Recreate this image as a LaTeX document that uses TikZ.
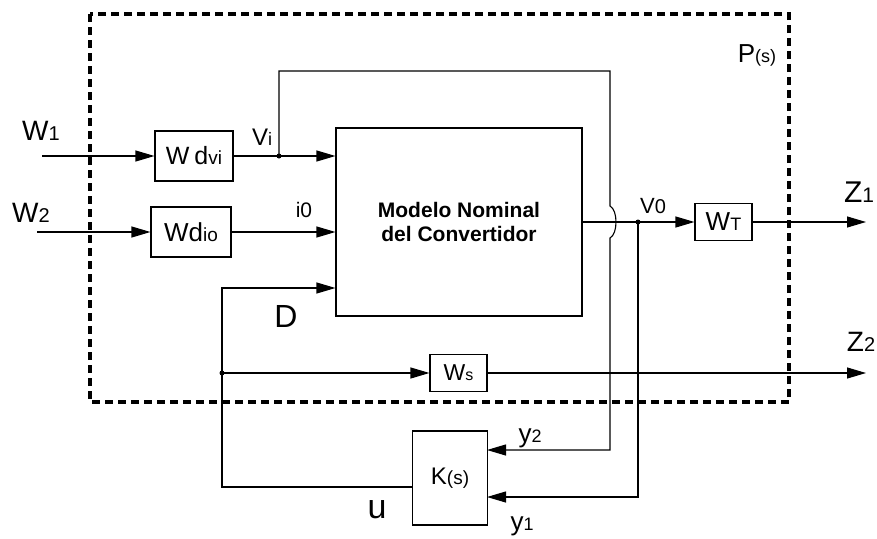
\documentclass[tikz,border=0pt]{standalone}
\usepackage{fontspec}
\setmainfont{Liberation Sans}
\usetikzlibrary{arrows.meta}
\newcommand{\fsz}[1]{\fontsize{#1}{#1}\selectfont}
\tikzset{
  blok/.style={draw, line width=1.1pt, inner sep=0pt},
  wire/.style={line width=1.1pt},
  arr/.style={line width=1.1pt, -{Triangle[length=19pt,width=11pt]}},
  lbl/.style={inner sep=0pt, anchor=base},
}
\begin{document}
\begin{tikzpicture}[x=1pt,y=-1pt]
        \useasboundingbox (0,0) rectangle (877,538);
        % P(s) frame
        \draw[line width=3.2pt, dash pattern=on 8pt off 5pt] (90,14) rectangle (789,402);
        \node[lbl] (ps) at (757,62) {\fsz{26}P\fsz{18}(s)};
        % blocks
        \node[blok, minimum width=246pt, minimum height=188pt, align=center,
              font={\fontsize{21}{24}\selectfont\bfseries}] (blk) at (459,222) {Modelo Nominal\\del Convertidor};
        \node[blok, minimum width=78pt, minimum height=50pt] (wdvi) at (194,156) {\fsz{25}W\hspace{5pt}d\fsz{19}vi};
        \node[blok, minimum width=80pt, minimum height=50pt] (wdio) at (191,232) {\fsz{26}Wd\fsz{19}io};
        \node[blok, minimum width=57pt, minimum height=37pt] (wt) at (723.5,222) {\fsz{26}W\fsz{18}T};
        \node[blok, minimum width=57pt, minimum height=37pt] (ws) at (458.5,373) {\fsz{23}W\fsz{16}s};
        \node[blok, minimum width=75pt, minimum height=94pt] (ks) at (450,478) {\fsz{24}K\fsz{19}(s)};
        % points
        \coordinate (w1) at (42,156);
        \coordinate (w2) at (37,232);
        \coordinate (vi) at (279,156);
        \coordinate (lt) at (610,71);
        \coordinate (dc) at (222,288);
        \coordinate (sj) at (222,373);
        \coordinate (vo) at (638,222);
        \coordinate (z1) at (866,222);
        \coordinate (z2) at (866,373);
        \coordinate (ky2) at (487,450);
        \coordinate (ky1) at (487,497);
        \coordinate (ku) at (412,487);
        % connectors
        \draw[arr] (w1) -- (wdvi);
        \draw[arr] (w2) -- (wdio);
        \draw[wire] (wdvi) -- (vi);
        \draw[arr] (vi) -- (vi -| blk.west);
        \draw[arr] (wdio) -- (wdio -| blk.west);
        \draw[arr] (vi) |- (lt) -- (610,206) .. controls (618,210) and (618,234) .. (610,238) |- (ky2);
        \draw[wire] (blk.east) -- (vo);
        \draw[arr] (vo) -- (wt);
        \draw[arr] (wt) -- (z1);
        \draw[arr] (vo) |- (ky1);
        \draw[arr] (ku) -| (dc) -- (dc -| blk.west);
        \draw[arr] (sj) -- (ws);
        \draw[arr] (ws) -- (z2);
        \fill (vi) circle (2.5pt);
        \fill (vo) circle (2.5pt);
        \fill (sj) circle (2.5pt);
        % labels
        \node[lbl] (lw1) at (41,140) {\fsz{28}W\fsz{20}1};
        \node[lbl] (lw2) at (31,222) {\fsz{28}W\fsz{20}2};
        \node[lbl] (lvi) at (262,145) {\fsz{24}V\fsz{18}i};
        \node[lbl] (li0) at (304,217) {\fsz{21}i0};
        \node[lbl] (lvo) at (653,213) {\fsz{22}V\fsz{20}0};
        \node[lbl] (ld) at (286,327) {\fsz{32}D};
        \node[lbl] (lz1) at (859,202) {\fsz{30}Z\fsz{21}1};
        \node[lbl] (lz2) at (861,351) {\fsz{28}Z\fsz{20}2};
        \node[lbl] (ly2) at (530,442) {\fsz{26}y\fsz{18}2};
        \node[lbl] (ly1) at (522,530) {\fsz{26}y\fsz{18}1};
        \node[lbl] (lu) at (377,518) {\fsz{34}u};
\end{tikzpicture}
\end{document}
